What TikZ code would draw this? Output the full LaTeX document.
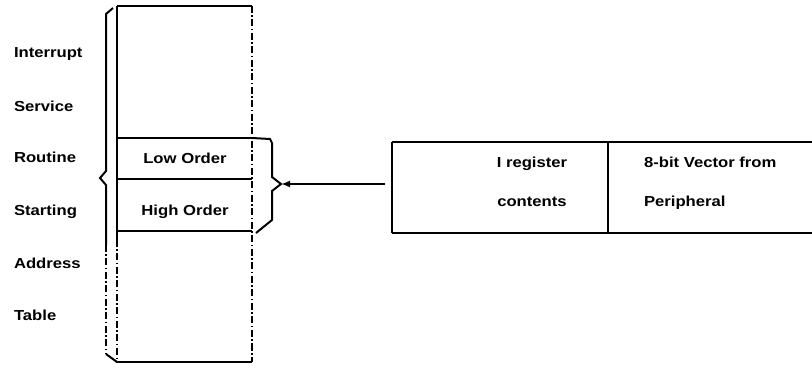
\documentclass[tikz,border=0pt]{standalone}
\usepackage{fontspec}
\setmainfont{Liberation Sans}[FakeStretch=1.15]
\usetikzlibrary{arrows.meta}
\begin{document}
\begin{tikzpicture}[x=1pt,y=-1pt,line width=2pt,
  lbl/.style={font=\bfseries\fontsize{14.5}{16}\selectfont,anchor=base west,inner sep=0pt},
  ctr/.style={font=\bfseries\fontsize{14.5}{16}\selectfont,anchor=base,inner sep=0pt},
  rule/.style={line width=2pt},
  dashdot/.style={line width=1.8pt,dash pattern=on 7pt off 2.5pt on 1.5pt off 2.5pt},
  arr/.style={line width=2.4pt,-{Latex[length=9pt,width=7pt]}}]
\useasboundingbox (0,0) rectangle (812,374);
% left labels
\node[lbl] (l1) at (13,58) {Interrupt};
\node[lbl] (l2) at (13,112) {Service};
\node[lbl] (l3) at (13,163) {Routine};
\node[lbl] (l4) at (13,216) {Starting};
\node[lbl] (l5) at (13,269) {Address};
\node[lbl] (l6) at (13,321) {Table};
% main table
\coordinate (tl) at (117,6);
\coordinate (tr) at (252,6);
\coordinate (bl) at (117,362);
\coordinate (br) at (252,362);
\draw[rule] (tl) -- (tr);
\draw[rule] (bl) -- (br);
\draw[rule] (tl) -- (117,240);
\draw[dashdot] (117,240) -- (bl);
\draw[dashdot] (tr) -- (br);
\draw[rule] (117,138) -- (252,138);
\draw[rule] (117,179) -- (252,179);
\draw[rule] (117,231) -- (252,231);
\node[ctr] (low) at (185,164) {Low Order};
\node[ctr] (high) at (185,216) {High Order};
% left brace
\draw[rule] (113,8) -- (106,14) -- (106,171) -- (100,178) -- (106,185) -- (106,245);
\draw[dashdot] (106,245) -- (106,354);
\draw[rule] (106,354) -- (bl);
% right brace
\coordinate (rb) at (281,184);
\draw[rule] (252,138) -- (270,139) -- (272,143) -- (272,177) -- (rb) -- (272,191) -- (272,220) -- (256,233);
% right box
\coordinate (rtl) at (392,142);
\coordinate (rbl) at (392,233);
\coordinate (rtr) at (812,142);
\coordinate (rbr) at (812,233);
\coordinate (rdt) at (608,142);
\coordinate (rdb) at (608,233);
\draw[rule] (rtl) -- (rtr);
\draw[rule] (rbl) -- (rbr);
\draw[rule] (rtl) -- (rbl);
\draw[rule] (rdt) -- (rdb);
\coordinate (src) at (385,184);
\draw[arr] (src) -- (rb);
\node[ctr] (ireg) at (532,168) {I register};
\node[ctr] (cont) at (532,207) {contents};
\node[lbl] (vec) at (643,168) {8-bit Vector from};
\node[lbl] (per) at (643,207) {Peripheral};
\end{tikzpicture}
\end{document}
